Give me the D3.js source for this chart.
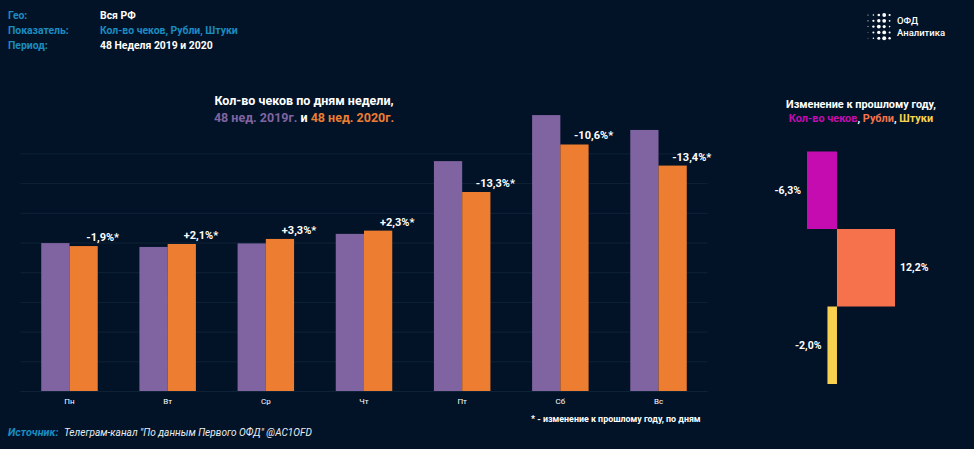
<!DOCTYPE html>
<html>
<head>
<meta charset="utf-8">
<script src="https://cdnjs.cloudflare.com/ajax/libs/d3/7.8.5/d3.min.js"></script>
<style>
  html, body { margin: 0; padding: 0; background: #021327; }
  svg { display: block; font-family: Roboto, sans-serif; font-weight: 700; }
</style>
</head>
<body>
<svg id="chart" width="974" height="449"></svg>
<script>
const days = ['Пн', 'Вт', 'Ср', 'Чт', 'Пт', 'Сб', 'Вс'];
const years = ['2019', '2020'];
const checks2019 = [49.8, 48.5, 49.7, 52.9, 77.4, 92.9, 87.9];
const checks2020 = [48.8, 49.5, 51.2, 54.0, 67.0, 83.0, 75.9];
const dayChange = ['-1,9%*', '+2,1%*', '+3,3%*', '+2,3%*', '-13,3%*', '-10,6%*', '-13,4%*'];
const gridTicks = [0, 10, 20, 30, 40, 50, 60, 70, 80];

const metrics = ['Кол-во чеков', 'Рубли', 'Штуки'];
const metricChange = [-6.3, 12.2, -2.0];
const metricLabels = ['-6,3%', '12,2%', '-2,0%'];

const headerKeys = ['Гео:', 'Показатель:', 'Период:'];
const headerValues = ['Вся РФ', 'Кол-во чеков, Рубли, Штуки', '48 Неделя 2019 и 2020'];

// logo dot radii, row by row
const logoDots = [
  [0.5, 0.8, 1.3, 1.9, 1.1],
  [0.6, 1.1, 1.7, 1.9, 0.9],
  [0.5, 1.2, 1.9, 1.6, 0.8],
  [0.4, 1.0, 1.7, 1.9, 1.0],
  [0.4, 0.8, 1.5, 2.0, 1.2]
];

const blue = '#1b8cc0';
const purple = '#8064a2';
const orange = '#ed7d31';
const metricColors = ['#c40cb0', '#f5724c', '#f8d24e'];

const svg = d3.select('#chart');

// header
const header = svg.append('g').attr('font-size', 10.4);
header.selectAll('.key')
  .data(headerKeys)
  .join('text')
  .attr('class', 'key')
  .attr('x', 8)
  .attr('y', (d, i) => 19 + i * 15)
  .attr('fill', blue)
  .text(d => d);
header.selectAll('.val')
  .data(headerValues)
  .join('text')
  .attr('class', 'val')
  .attr('x', 100)
  .attr('y', (d, i) => 19 + i * 15)
  .attr('fill', (d, i) => i === 1 ? blue : '#fff')
  .text(d => d);

// logo
const logo = svg.append('g').attr('transform', 'translate(868,15)');
logo.selectAll('g')
  .data(logoDots)
  .join('g')
  .attr('transform', (d, i) => `translate(0,${i * 5.8})`)
  .selectAll('circle')
  .data(d => d)
  .join('circle')
  .attr('cx', (d, i) => i * 5.4)
  .attr('r', d => d)
  .attr('fill', '#fff');
svg.append('text').attr('x', 897).attr('y', 23.5).attr('font-size', 9.5).attr('font-weight', 500)
  .attr('fill', '#fff').text('ОФД');
svg.append('text').attr('x', 897).attr('y', 35.5).attr('font-size', 9.5).attr('font-weight', 500)
  .attr('fill', '#fff').text('Аналитика');

// main chart
const x = d3.scaleBand().domain(days).range([20.4, 707.6]).paddingInner(0.4245).paddingOuter(0.2122);
const xYear = d3.scaleBand().domain(years).range([0, x.bandwidth()]);
const y = d3.scaleLinear().domain([0, 100]).range([391, 94]);

const axisY = d3.axisLeft(y).tickValues(gridTicks).tickSize(-687.2).tickFormat('');
const gAxisY = svg.append('g').attr('transform', 'translate(20.4,0)').call(axisY);
gAxisY.select('.domain').remove();
gAxisY.selectAll('line').attr('stroke', '#0e2237').attr('stroke-width', 1);

const axisX = d3.axisBottom(x).tickSize(0).tickPadding(7);
const gAxisX = svg.append('g').attr('transform', 'translate(0,391)').call(axisX);
gAxisX.select('.domain').remove();
gAxisX.selectAll('text').attr('fill', '#fff').attr('font-size', 8).attr('font-weight', 400)
  .attr('font-family', 'Roboto, sans-serif');

const groups = svg.append('g').selectAll('g')
  .data(days)
  .join('g')
  .attr('transform', d => `translate(${x(d)},0)`);

groups.append('rect')
  .attr('x', xYear('2019'))
  .attr('y', (d, i) => y(checks2019[i]))
  .attr('width', xYear.bandwidth())
  .attr('height', (d, i) => y(0) - y(checks2019[i]))
  .attr('fill', purple);

groups.append('rect')
  .attr('x', xYear('2020'))
  .attr('y', (d, i) => y(checks2020[i]))
  .attr('width', xYear.bandwidth())
  .attr('height', (d, i) => y(0) - y(checks2020[i]))
  .attr('fill', orange);

groups.append('text')
  .attr('x', xYear('2020') + xYear.bandwidth() + 5)
  .attr('y', (d, i) => y(checks2020[i]) - 5)
  .attr('text-anchor', 'middle')
  .attr('font-size', 11)
  .attr('fill', '#fff')
  .text((d, i) => dayChange[i]);

// main title
const title = svg.append('text').attr('text-anchor', 'middle').attr('font-size', 12.5);
title.append('tspan').attr('x', 304).attr('y', 105).attr('fill', '#fff').text('Кол-во чеков по дням недели,');
const title2 = title.append('tspan').attr('x', 304).attr('y', 122);
title2.append('tspan').attr('fill', purple).text('48 нед. 2019г.');
title2.append('tspan').attr('fill', '#fff').text(' и ');
title2.append('tspan').attr('fill', orange).text('48 нед. 2020г.');

// change chart
const xChange = d3.scaleLinear().domain([-6.3, 12.2]).range([807, 895]);
const yMetric = d3.scaleBand().domain(metrics).range([151.5, 384]);

const bars = svg.append('g').selectAll('g')
  .data(metrics)
  .join('g');

bars.append('rect')
  .attr('x', (d, i) => Math.min(xChange(0), xChange(metricChange[i])))
  .attr('y', d => yMetric(d))
  .attr('width', (d, i) => Math.abs(xChange(metricChange[i]) - xChange(0)))
  .attr('height', yMetric.bandwidth())
  .attr('fill', (d, i) => metricColors[i]);

bars.append('text')
  .attr('x', (d, i) => xChange(metricChange[i]) + (metricChange[i] < 0 ? -6 : 5))
  .attr('y', d => yMetric(d) + yMetric.bandwidth() / 2 + 3.5)
  .attr('text-anchor', (d, i) => metricChange[i] < 0 ? 'end' : 'start')
  .attr('font-size', 10.5)
  .attr('fill', '#fff')
  .text((d, i) => metricLabels[i]);

const title3 = svg.append('text').attr('text-anchor', 'middle').attr('font-size', 10.9);
title3.append('tspan').attr('x', 861).attr('y', 108).attr('fill', '#fff').text('Изменение к прошлому году,');
const title4 = title3.append('tspan').attr('x', 861).attr('y', 122);
metrics.forEach((m, i) => {
  title4.append('tspan').attr('fill', metricColors[i]).text(m);
  if (i < metrics.length - 1) title4.append('tspan').attr('fill', '#fff').text(', ');
});

// footer
svg.append('text').attr('x', 531).attr('y', 422).attr('font-size', 8.9).attr('fill', '#fff')
  .text('* - изменение к прошлому году, по дням');
svg.append('text').attr('x', 8).attr('y', 436).attr('font-size', 10.8).attr('font-style', 'italic')
  .attr('fill', blue).text('Источник:');
svg.append('text').attr('x', 64).attr('y', 436).attr('font-size', 10.1).attr('font-style', 'italic')
  .attr('font-weight', 400).attr('fill', '#e8edf2')
  .text('Телеграм-канал "По данным Первого ОФД" @AC1OFD');
</script>
</body>
</html>
